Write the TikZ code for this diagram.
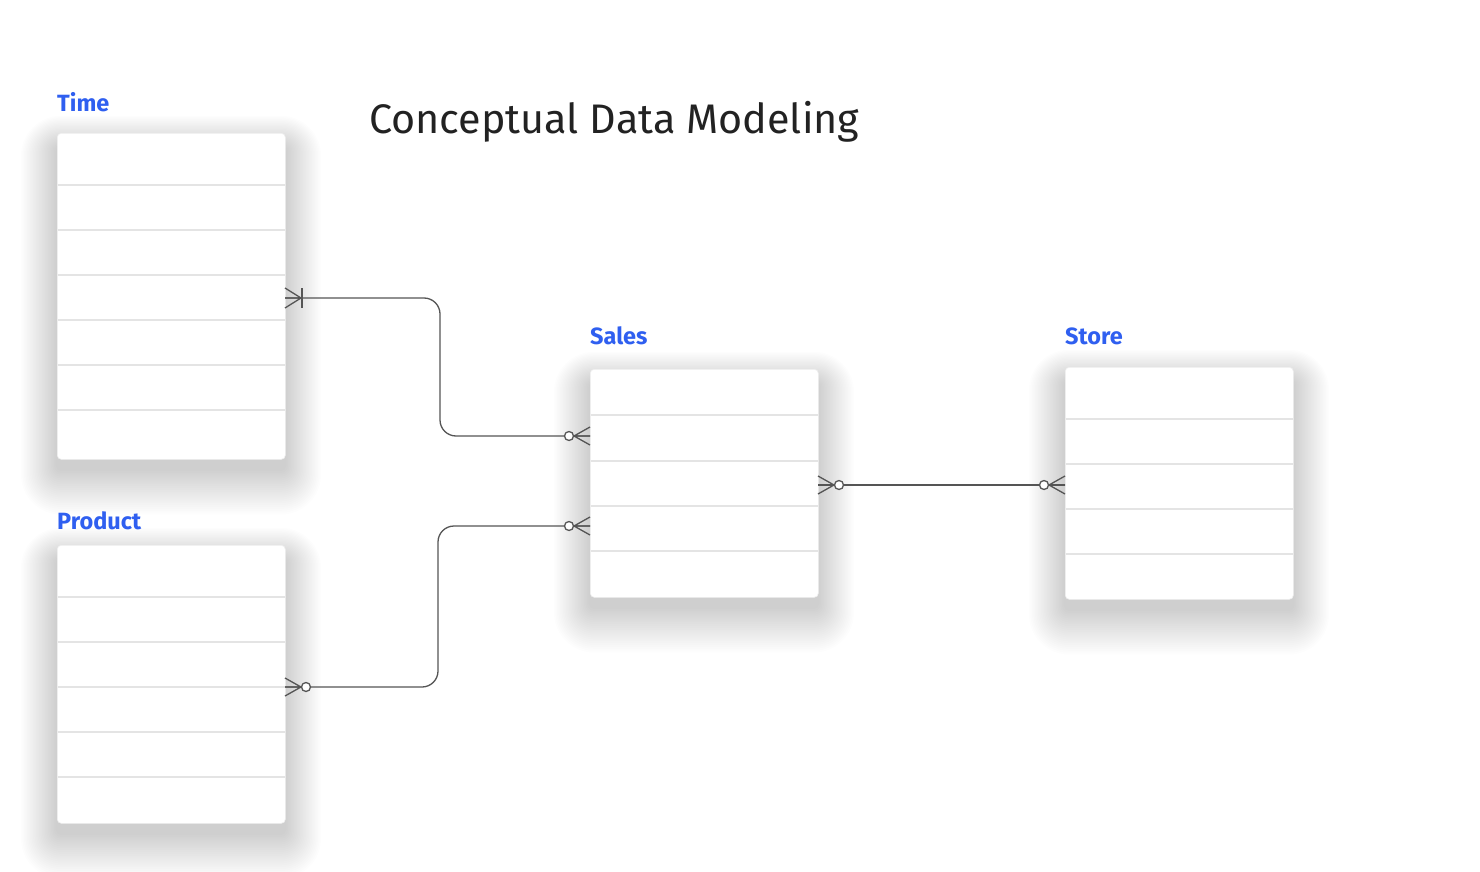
\documentclass[tikz,border=0pt]{standalone}
\usepackage{fontspec}
\setmainfont{Fira Sans}
\definecolor{lblue}{HTML}{2F5FF0}
\definecolor{rowline}{HTML}{E4E4E4}
\definecolor{connc}{HTML}{555555}
\definecolor{titlec}{HTML}{222222}
\newcommand{\tshadow}[4]{%
  \foreach \i in {1,...,24}{%
    \fill[black, opacity=0.0075, rounded corners=4+\i*1.5]
      ({#1-\i*1.5},{#2+14-\i*1.3}) rectangle ({#3+\i*1.5},{#4+10+\i*1.9});
  }%
}
\tikzset{
  x=1pt, y=-1pt,
  tablebox/.style={draw=rowline!60, line width=0.6pt, fill=white, rounded corners=4pt, anchor=north west, inner sep=0pt},
  rowsep/.style={draw=rowline, line width=1.6pt},
  tlabel/.style={anchor=base west, inner sep=0pt, text=lblue, font=\bfseries\fontsize{23.5}{26}\selectfont},
  conn/.style={draw=connc, line width=1.3pt},
  zmany/.pic={
    \draw[conn] (0,-9) -- (16,0) (0,0) -- (16,0) (0,9) -- (16,0);
    \draw[conn, fill=white] (21,0) circle (4.5);
  },
  omany/.pic={
    \draw[conn] (0,-10) -- (16,0) (0,0) -- (16,0) (0,10) -- (16,0);
    \draw[conn] (17,-10) -- (17,10);
  }
}
\begin{document}
\begin{tikzpicture}
\useasboundingbox (0,0) rectangle (1480,872);
\fill[white] (0,0) rectangle (1480,872);

% title
\node[anchor=base west, inner sep=0pt, text=titlec, font=\fontsize{41.3}{46}\selectfont] (title) at (369,134) {Conceptual Data Modeling};

% shadows
\tshadow{57}{133}{285}{459}
\tshadow{57}{545}{285}{823}
\tshadow{590}{369}{818}{597}
\tshadow{1065}{367}{1293}{599}

% Time table
\node[tablebox, minimum width=228, minimum height=326] (time) at (57,133) {};
\node[tlabel] (timel) at (57,112) {Time};
\foreach \y in {185,230,275,320,365,410} \draw[rowsep] (57.5,\y) -- (284.5,\y);

% Product table
\node[tablebox, minimum width=228, minimum height=278] (product) at (57,545) {};
\node[tlabel] (productl) at (57,529) {Product};
\foreach \y in {597,642,687,732,777} \draw[rowsep] (57.5,\y) -- (284.5,\y);

% Sales table
\node[tablebox, minimum width=228, minimum height=228] (sales) at (590,369) {};
\node[tlabel] (salesl) at (590,344) {Sales};
\foreach \y in {415,461,506,551} \draw[rowsep] (590.5,\y) -- (817.5,\y);

% Store table
\node[tablebox, minimum width=228, minimum height=232] (store) at (1065,367) {};
\node[tlabel] (storel) at (1065,344) {Store};
\foreach \y in {419,464,509,554} \draw[rowsep] (1065.5,\y) -- (1292.5,\y);

% connection points
\coordinate (tA) at (285,298);
\coordinate (sA) at (590,436);
\coordinate (pB) at (285,687);
\coordinate (sB) at (590,526);
\coordinate (sC) at (818,485);
\coordinate (stC) at (1065,485);

% connectors
\draw[conn, rounded corners=16pt] (tA) -- (440,298) -- (440,436) -- (sA);
\draw[conn, rounded corners=16pt] (pB) -- (438,687) -- (438,526) -- (sB);
\draw[conn] (sC) -- (stC);

% ends
\pic at (tA) {omany};
\pic[rotate=180] at (sA) {zmany};
\pic at (pB) {zmany};
\pic[rotate=180] at (sB) {zmany};
\pic at (sC) {zmany};
\pic[rotate=180] at (stC) {zmany};
\end{tikzpicture}
\end{document}
